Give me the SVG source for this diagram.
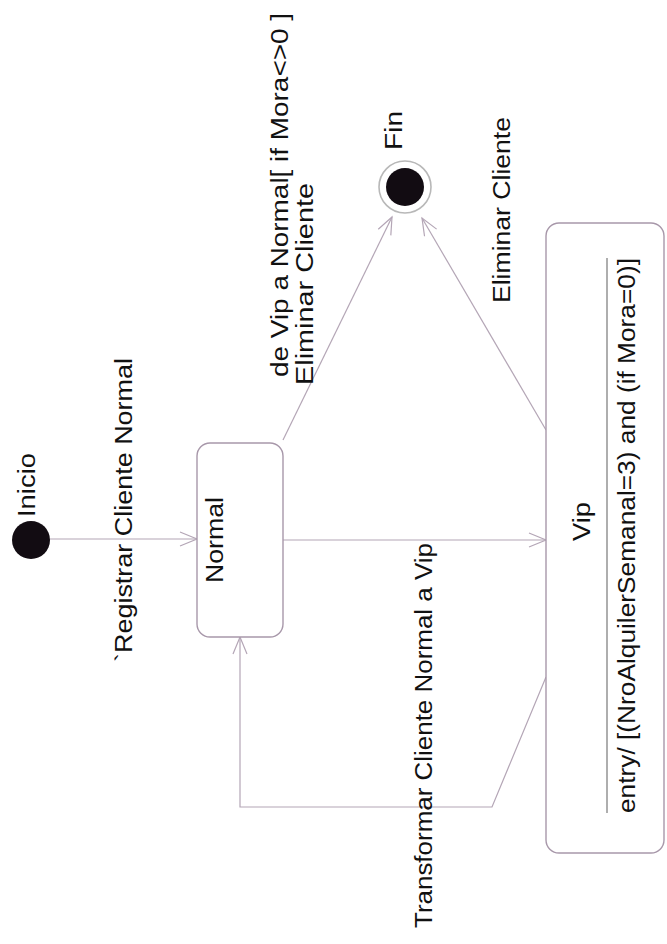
<svg xmlns="http://www.w3.org/2000/svg" width="667" height="944" viewBox="0 0 667 944">
  <defs>
    <marker id="open-arrow" markerWidth="20" markerHeight="16" refX="18" refY="8" orient="auto" markerUnits="userSpaceOnUse">
      <path d="M1,1 L18,8 L1,15" fill="none" stroke="#b4a6b6" stroke-width="1.2"/>
    </marker>
    <style>
      .lbl { font-family: "Liberation Sans", Arial, Helvetica, sans-serif; font-size: 23px; fill: #111; }
      .state { fill: #fff; stroke: #a898aa; stroke-width: 1.4; }
      .conn { fill: none; stroke: #b4a6b6; stroke-width: 1.2; }
      .bullet { fill: #120c12; }
    </style>
  </defs>
  <rect width="667" height="944" fill="#fff"/>

  <!-- transitions -->
  <g id="connectors">
    <path class="conn" d="M50,539 L197,539" marker-end="url(#open-arrow)"/>
    <path class="conn" d="M283,540 L546,540" marker-end="url(#open-arrow)"/>
    <path class="conn" d="M546,677 L492,807 L240,807 L240,637" marker-end="url(#open-arrow)"/>
    <path class="conn" d="M283,440 L392,217" marker-end="url(#open-arrow)"/>
    <path class="conn" d="M546,430 L422,218" marker-end="url(#open-arrow)"/>
    <text class="lbl" transform="translate(132,662) rotate(-90)" textLength="304" lengthAdjust="spacingAndGlyphs">`Registrar Cliente Normal</text>
    <text class="lbl" transform="translate(432,928) rotate(-90)" textLength="385" lengthAdjust="spacingAndGlyphs">Transformar Cliente Normal a Vip</text>
    <text class="lbl" transform="translate(288,377) rotate(-90)" textLength="364" lengthAdjust="spacingAndGlyphs">de Vip a Normal[ if Mora&lt;&gt;0 ]</text>
    <text class="lbl" transform="translate(313,385) rotate(-90)" textLength="202" lengthAdjust="spacingAndGlyphs">Eliminar Cliente</text>
    <text class="lbl" transform="translate(510,303) rotate(-90)" textLength="186" lengthAdjust="spacingAndGlyphs">Eliminar Cliente</text>
  </g>

  <!-- initial pseudo-state -->
  <g id="inicio">
    <circle class="bullet" cx="31" cy="540" r="19"/>
    <text class="lbl" transform="translate(35,517) rotate(-90)" textLength="64" lengthAdjust="spacingAndGlyphs">Inicio</text>
  </g>

  <!-- state Normal -->
  <g id="normal">
    <rect class="state" x="197" y="443" width="86" height="194" rx="13" ry="13"/>
    <text class="lbl" transform="translate(223,583) rotate(-90)" textLength="86" lengthAdjust="spacingAndGlyphs">Normal</text>
  </g>

  <!-- state Vip with entry action -->
  <g id="vip">
    <rect class="state" x="546" y="223" width="118" height="630" rx="13" ry="13"/>
    <text class="lbl" transform="translate(590,541) rotate(-90)" textLength="39" lengthAdjust="spacingAndGlyphs">Vip</text>
    <line x1="607" y1="258" x2="607" y2="813" stroke="#8c8c8c" stroke-width="1.4"/>
    <text class="lbl" transform="translate(635,813) rotate(-90)" textLength="555" lengthAdjust="spacingAndGlyphs">entry/ [(NroAlquilerSemanal=3) and (if Mora=0)]</text>
  </g>

  <!-- final state -->
  <g id="fin">
    <circle cx="405" cy="187" r="26" fill="#fff" stroke="#b8b8b8" stroke-width="1.6"/>
    <circle class="bullet" cx="405" cy="187" r="19"/>
    <text class="lbl" transform="translate(402,150) rotate(-90)" textLength="39" lengthAdjust="spacingAndGlyphs">Fin</text>
  </g>
</svg>
